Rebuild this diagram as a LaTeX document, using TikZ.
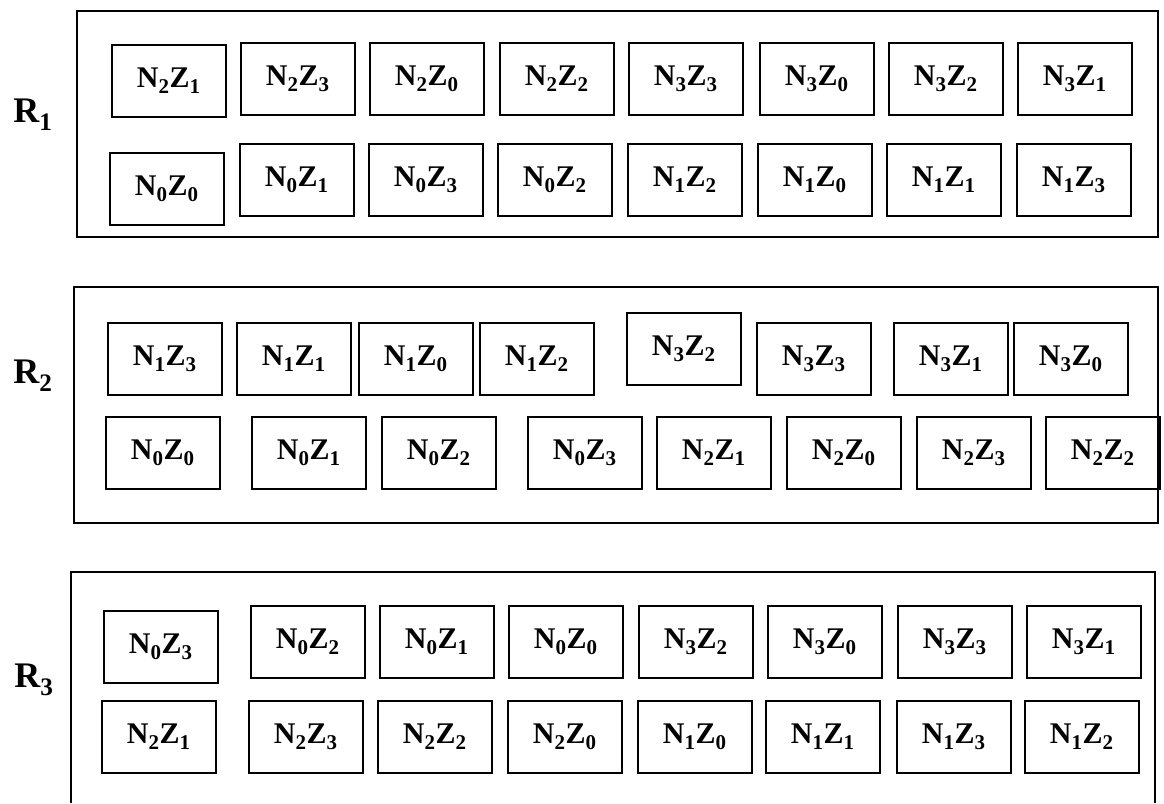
\documentclass[tikz,border=0pt]{standalone}
\usepackage{fontspec}
\setmainfont{Liberation Serif}
\usepackage{tikz}
\usetikzlibrary{positioning}
\newcommand{\nz}[2]{N\textsubscript{#1}Z\textsubscript{#2}}

\begin{document}
\begin{tikzpicture}[x=1pt,y=-1pt,
    c/.style={rectangle,draw,line width=1.6pt,anchor=north west,inner sep=0pt,
      minimum width=114pt,minimum height=72pt,font=\fontsize{30}{32}\selectfont\bfseries},
    f/.style={draw,line width=1.5pt},
    r/.style={font=\fontsize{36}{38}\selectfont\bfseries}]
    \useasboundingbox (0,0) rectangle (1164,803);
    % frames
    \draw[f] (77,11) rectangle (1158,237);
    \draw[f] (74,287) rectangle (1158,523);
    \draw[f] (71,803) -- (71,572) -- (1155,572) -- (1155,803);
    \node[r] (R1) at (33,115) {R\textsubscript{1}};
    \node[r] (R2) at (33,376) {R\textsubscript{2}};
    \node[r] (R3) at (34,680) {R\textsubscript{3}};
    % R1
    \foreach \x/\y/\n/\z [count=\i] in {111/44/2/1,240/42/2/3,369/42/2/0,499/42/2/2,
      628/42/3/3,759/42/3/0,888/42/3/2,1017/42/3/1}
      \node[c] (r1t\i) at (\x,\y) {\nz{\n}{\z}};
    \foreach \x/\y/\n/\z [count=\i] in {109/152/0/0,239/143/0/1,368/143/0/3,497/143/0/2,
      627/143/1/2,757/143/1/0,886/143/1/1,1016/143/1/3}
      \node[c] (r1b\i) at (\x,\y) {\nz{\n}{\z}};
    % R2
    \foreach \x/\y/\n/\z [count=\i] in {107/322/1/3,236/322/1/1,358/322/1/0,479/322/1/2,
      626/312/3/2,756/322/3/3,893/322/3/1,1013/322/3/0}
      \node[c] (r2t\i) at (\x,\y) {\nz{\n}{\z}};
    \foreach \x/\y/\n/\z [count=\i] in {105/416/0/0,251/416/0/1,381/416/0/2,527/416/0/3,
      656/416/2/1,786/416/2/0,916/416/2/3,1045/416/2/2}
      \node[c] (r2b\i) at (\x,\y) {\nz{\n}{\z}};
    % R3
    \foreach \x/\y/\n/\z [count=\i] in {103/610/0/3,250/605/0/2,379/605/0/1,508/605/0/0,
      638/605/3/2,767/605/3/0,897/605/3/3,1026/605/3/1}
      \node[c] (r3t\i) at (\x,\y) {\nz{\n}{\z}};
    \foreach \x/\y/\n/\z [count=\i] in {101/700/2/1,248/700/2/3,377/700/2/2,507/700/2/0,
      637/700/1/0,765/700/1/1,896/700/1/3,1024/700/1/2}
      \node[c] (r3b\i) at (\x,\y) {\nz{\n}{\z}};
  \end{tikzpicture}
\end{document}
